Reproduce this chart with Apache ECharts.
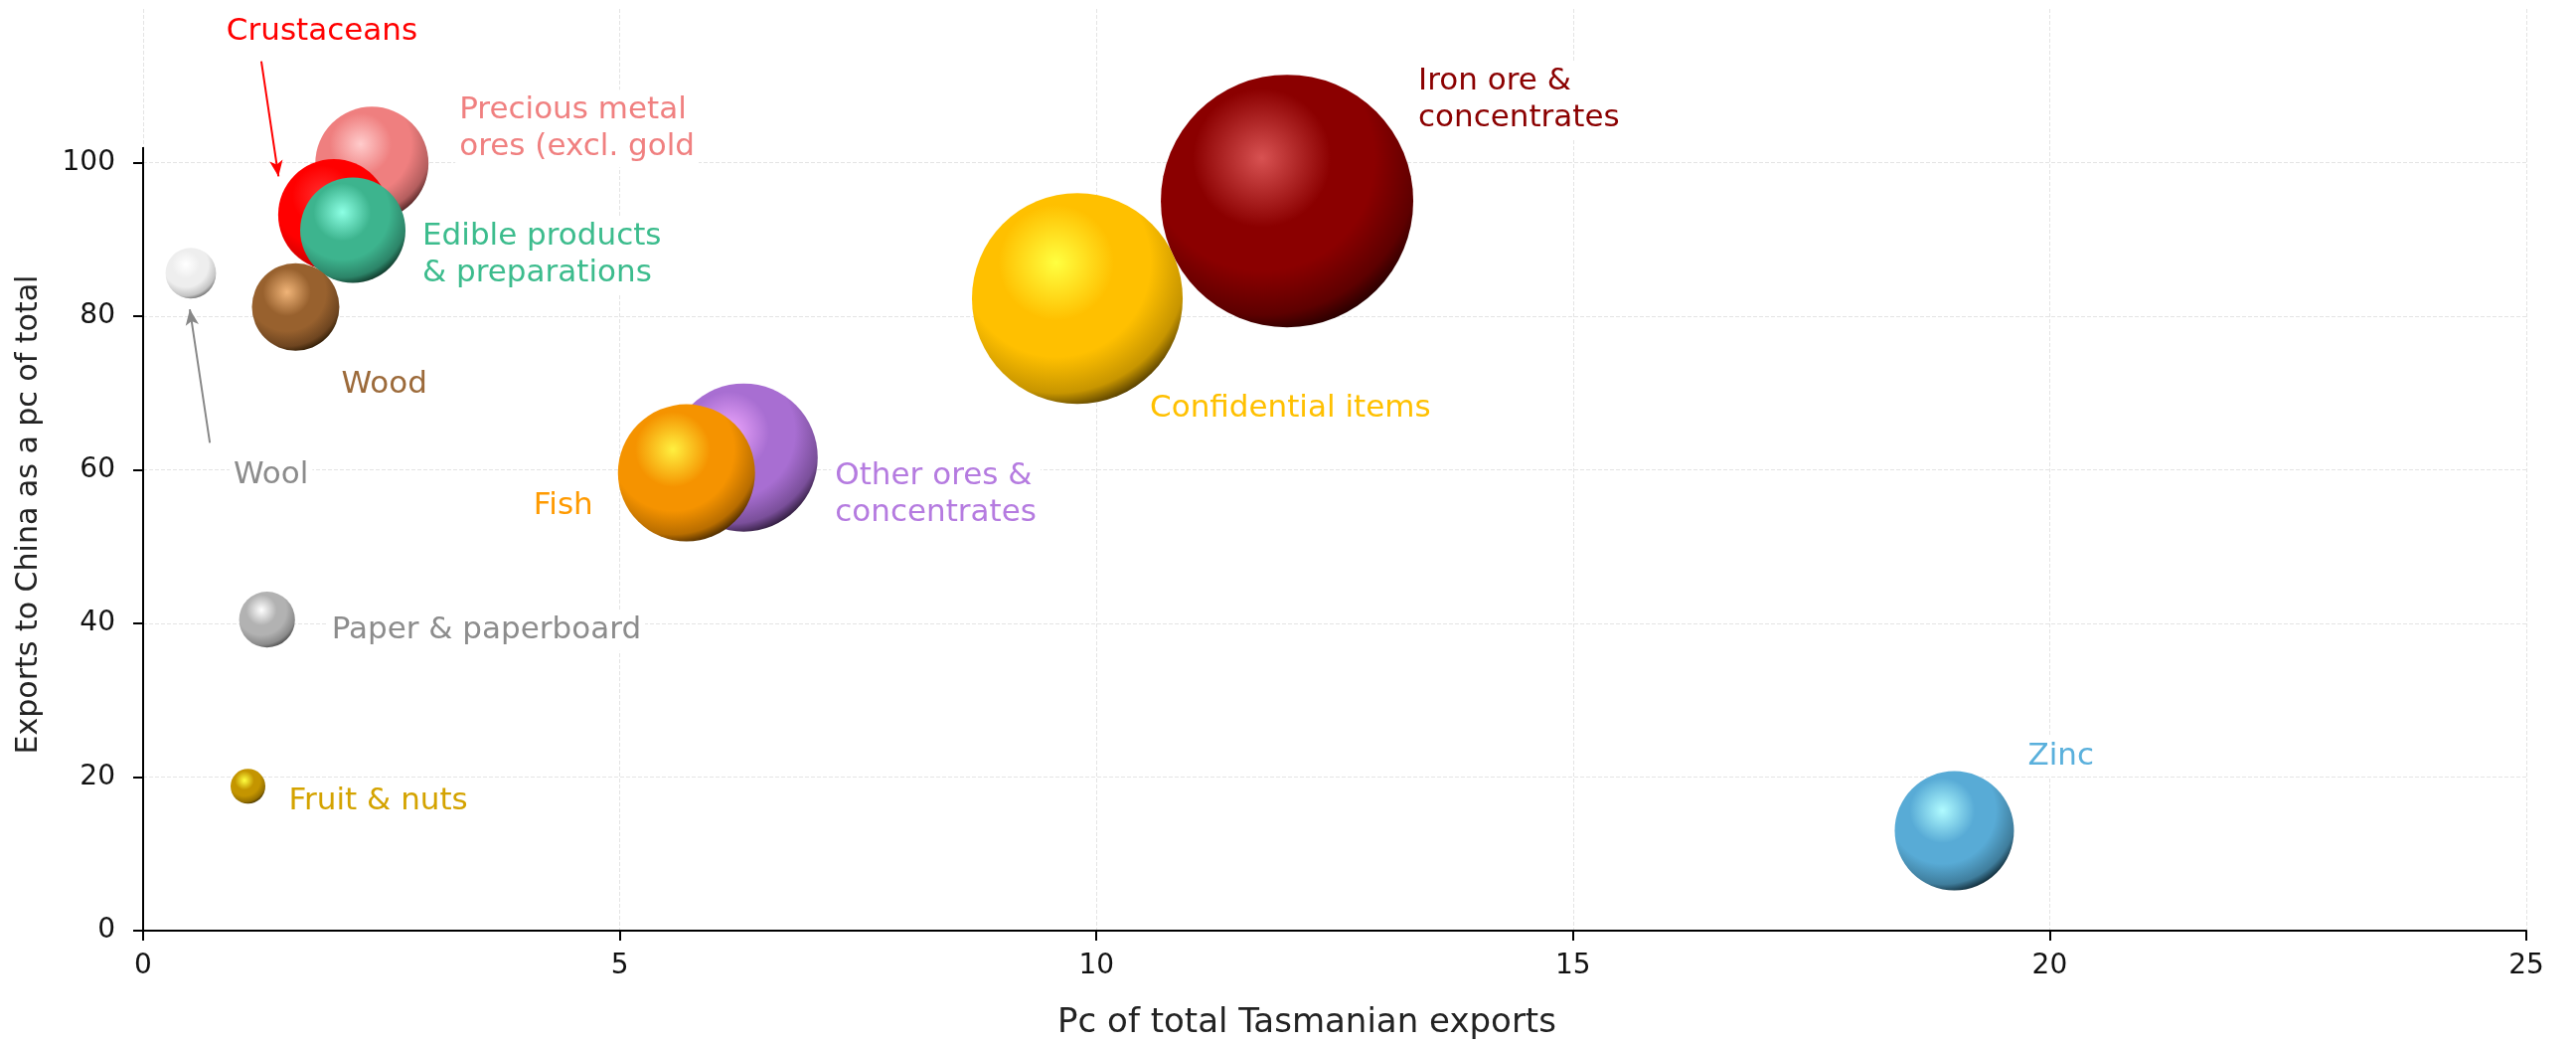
<!DOCTYPE html>
<html>
<head>
<meta charset="utf-8">
<script src="https://cdn.jsdelivr.net/npm/echarts@6/dist/echarts.min.js"></script>
<style>
html,body{margin:0;padding:0;background:#fff;}
#chart{width:2592px;height:1051px;}
</style>
</head>
<body>
<div id="chart"></div>
<script>
// ---------- DATA ----------
const products = [
  'Iron ore &\nconcentrates',
  'Confidential items',
  'Other ores &\nconcentrates',
  'Fish',
  'Zinc',
  'Precious metal\nores (excl. gold',
  'Crustaceans',
  'Edible products\n& preparations',
  'Wood',
  'Wool',
  'Paper & paperboard',
  'Fruit & nuts'
];
// Pc of total Tasmanian exports (x)
const shareOfTasExports = [12.0, 9.8, 6.3, 5.7, 19.0, 2.4, 2.0, 2.2, 1.6, 0.5, 1.3, 1.1];
// Exports to China as a pc of total (y)
const shareToChina = [95.0, 82.3, 61.6, 59.6, 13.0, 99.9, 93.2, 91.2, 81.2, 85.6, 40.5, 18.8];
// Relative bubble magnitude (area-proportional)
const bubbleValue = [100, 69.7, 34.4, 29.5, 22.3, 20.1, 19.4, 17.4, 12.0, 4.0, 4.9, 1.9];

const xTicks = [0, 5, 10, 15, 20, 25];
const yTicks = [0, 20, 40, 60, 80, 100];

// ---------- STYLE / LAYOUT (not data) ----------
const sphere = [
  {base:'#8b0000', mid:'#5e0000', hi:'#d85252', dark:'#1a0000', text:'#8b0000'},
  {base:'#ffc000', mid:'#c79500', hi:'#ffff40', dark:'#3a2a00', text:'#ffc000'},
  {base:'#a86ed2', mid:'#7a4f9a', hi:'#f0a8ff', dark:'#1e1026', text:'#b57be0'},
  {base:'#f59300', mid:'#b86d00', hi:'#fff040', dark:'#2e1900', text:'#ff9a00'},
  {base:'#58abd6', mid:'#3f7d9c', hi:'#b0fbff', dark:'#04161e', text:'#5ab0dc'},
  {base:'#ef7f7f', mid:'#b45e5e', hi:'#ffcccc', dark:'#3a1616', text:'#f08080'},
  {base:'#ff0000', mid:'#d40000', hi:'#ff3030', dark:'#4a0000', text:'#ff0000'},
  {base:'#3db48e', mid:'#2c8468', hi:'#8cffe4', dark:'#082419', text:'#3cbc8d'},
  {base:'#98612e', mid:'#6e4520', hi:'#f0b478', dark:'#221400', text:'#9c6a3a'},
  {base:'#eeeeee', mid:'#c4c4c4', hi:'#ffffff', dark:'#5a5a5a', text:'#8c8c8c'},
  {base:'#b2b2b2', mid:'#8a8a8a', hi:'#ffffff', dark:'#3c3c3c', text:'#8c8c8c'},
  {base:'#c49500', mid:'#957000', hi:'#ffff40', dark:'#302300', text:'#d4a300'}
];
// label offsets (px) from bubble centre: [left edge, vertical centre]
const labelOffset = [
  [132, -102], [73, 111], [92, 37], [-154, 33], [74, -75], [88, -35],
  [-108, -184], [70, 25], [46, 78], [43, 203], [65, 11], [41, 15]
];
const FONT = '"DejaVu Sans", sans-serif';
const PAD = 4;

const seriesData = products.map((name, i) => {
  const s = sphere[i];
  return {
    name: name,
    value: [shareOfTasExports[i], shareToChina[i], bubbleValue[i]],
    itemStyle: {
      opacity: 1,
      color: {
        type: 'radial', x: 0.4, y: 0.33, r: 0.72,
        colorStops: [
          {offset: 0, color: s.hi},
          {offset: 0.38, color: s.base},
          {offset: 0.62, color: s.base},
          {offset: 0.86, color: s.mid},
          {offset: 1, color: s.dark}
        ]
      }
    },
    label: {
      show: true,
      position: 'inside',
      align: 'left',
      verticalAlign: 'middle',
      offset: [labelOffset[i][0] - PAD, labelOffset[i][1]],
      formatter: name,
      color: s.text,
      fontFamily: FONT,
      fontSize: 31,
      lineHeight: 37,
      backgroundColor: '#ffffff',
      padding: [2, PAD]
    }
  };
});

const chart = echarts.init(document.getElementById('chart'), null, {renderer: 'canvas'});
chart.setOption({
  backgroundColor: '#ffffff',
  animation: false,
  grid: {left: 144, right: 50, top: 9, bottom: 113, containLabel: false},
  xAxis: {
    type: 'value', min: 0, max: 25, interval: 5,
    name: 'Pc of total Tasmanian exports',
    nameLocation: 'middle', nameGap: 76,
    nameTextStyle: {fontFamily: FONT, fontSize: 34, color: '#222', padding: [0, 56, 0, 0]},
    axisLine: {show: true, lineStyle: {color: '#000', width: 2}},
    axisTick: {show: true, length: 10, lineStyle: {color: '#000', width: 2}},
    axisLabel: {fontFamily: FONT, fontSize: 28, color: '#111', margin: 22,
      customValues: xTicks},
    splitLine: {show: true, lineStyle: {color: '#e4e4e4', width: 1, type: 'dashed'}}
  },
  yAxis: {
    type: 'value', min: 0, max: 120, interval: 20,
    name: 'Exports to China as a pc of total',
    nameLocation: 'middle', nameGap: 100,
    nameTextStyle: {fontFamily: FONT, fontSize: 30, color: '#222', padding: [0, 90, 0, 0]},
    axisLine: {show: false},
    axisTick: {show: true, length: 10, lineStyle: {color: '#000', width: 2}, customValues: yTicks},
    axisLabel: {fontFamily: FONT, fontSize: 28, color: '#111', margin: 28, customValues: yTicks},
    splitLine: {show: true, lineStyle: {color: '#e4e4e4', width: 1, type: 'dashed'}}
  },
  series: [{
    type: 'scatter',
    data: seriesData,
    symbolSize: v => 25.4 * Math.sqrt(v[2]),
    emphasis: {disabled: true},
    markLine: {
      silent: true,
      animation: false,
      label: {show: false},
      symbol: ['none', 'none'],
      data: [
        [{coord: [0, 0], lineStyle: {color: '#000', width: 2, type: 'solid'}},
         {coord: [0, 102]}],
        [{coord: [1.24, 113.2], symbol: 'none', lineStyle: {color: '#ff0000', width: 2, type: 'solid'}},
         {coord: [1.42, 98.2], symbol: 'arrow', symbolSize: [10, 16]}],
        [{coord: [0.70, 63.5], symbol: 'none', lineStyle: {color: '#888888', width: 2, type: 'solid'}},
         {coord: [0.49, 80.9], symbol: 'arrow', symbolSize: [10, 16]}]
      ]
    }
  }]
});
</script>
</body>
</html>
